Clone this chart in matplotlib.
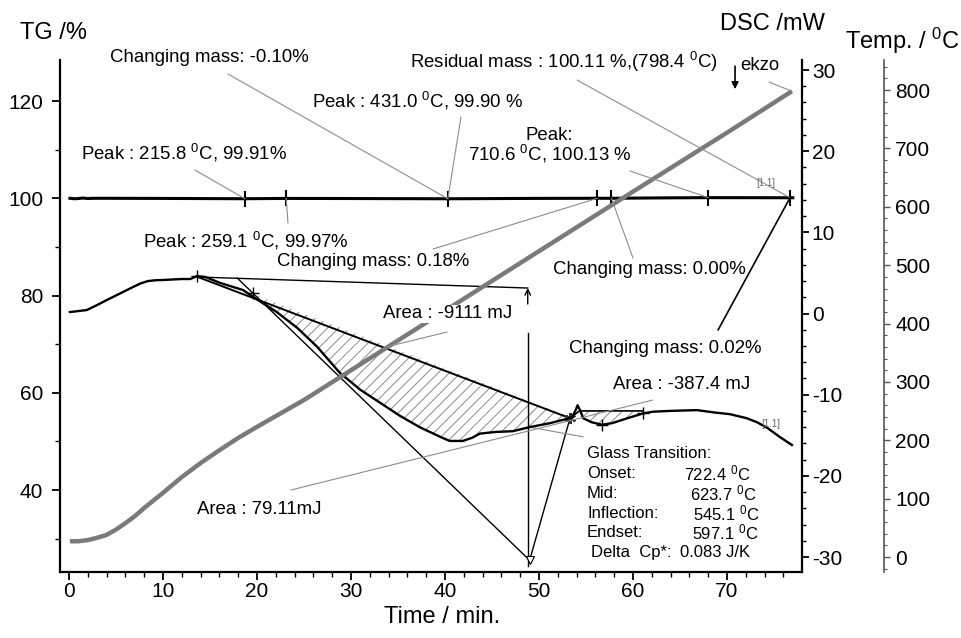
import numpy as np
import matplotlib
matplotlib.use('Agg')
import matplotlib.pyplot as plt
from matplotlib.ticker import MultipleLocator

plt.rcParams['font.family'] = ['Liberation Sans', 'DejaVu Sans']
plt.rcParams['mathtext.fontset'] = 'custom'
plt.rcParams['mathtext.rm'] = 'Liberation Sans'
plt.rcParams['mathtext.default'] = 'regular'
plt.rcParams['axes.unicode_minus'] = False
plt.rcParams['hatch.linewidth'] = 0.7

# ---- datos ----
# TG (%)
tg_time = [0.1, 0.6, 1.0, 1.5, 2.0, 2.6, 3.5, 10, 18.7, 23.1, 30, 40.3, 50, 56.2, 57.7, 63, 68.0, 73, 76.7, 77.0]
tg_val = [100.0, 99.9, 99.95, 100.05, 99.95, 100.0, 100.0, 99.97, 99.91, 99.97, 99.95, 99.90, 99.98,
          100.0, 100.0, 100.08, 100.13, 100.12, 100.11, 100.11]
tg_mark_time = [18.7, 23.1, 40.3, 56.2, 57.7, 68.0, 76.7]
tg_mark_val = [99.91, 99.97, 99.90, 100.0, 100.0, 100.13, 100.11]

# Temperatura (C)
temp_time = [0.1, 1, 2, 3, 4, 5, 6, 7, 8, 9, 10, 12, 14, 16, 18, 20, 25, 30, 40, 50, 60, 70, 76.9]
temp_val = [27, 27, 29, 33, 38, 47, 58, 70, 84, 97, 110, 137, 161, 183, 204, 223, 269, 320,
            422, 524, 626, 727, 798]

# DSC (mW)
dsc_time = [0.1, 1.9, 3.0, 4.0, 5.1, 6.0, 6.8, 7.6, 8.4, 9.2, 10.0, 12.0, 12.9, 13.6, 14.5, 16.1,
            18.5, 20.1, 22.1, 24.3, 26.4, 28.8, 31.0, 33.1, 35.2, 37.3, 39.5, 40.5, 41.9, 42.9,
            43.7, 45.3, 47.2, 49.0, 51.2, 52.9, 53.5, 53.9, 54.1, 54.4, 54.7, 55.6, 56.7, 57.8,
            59.4, 61.1, 62.1, 63.9, 66.8, 68.7, 70.3, 72.1, 73.2, 74.3, 75.6, 76.9]
dsc_val = [0.18, 0.43, 1.05, 1.65, 2.28, 2.8, 3.26, 3.7, 4.0, 4.1, 4.13, 4.25, 4.25, 4.6, 4.5,
           3.76, 2.9, 1.66, 0.18, -1.79, -4.1, -7.3, -9.4, -11.0, -12.6, -14.0, -15.2, -15.7,
           -15.7, -15.3, -14.8, -14.6, -14.5, -14.0, -13.5, -13.0, -12.8, -11.9, -11.3, -12.0,
           -12.9, -13.4, -13.7, -13.5, -12.9, -12.3, -12.1, -12.0, -11.9, -12.2, -12.4, -12.9,
           -13.4, -14.1, -15.2, -16.2]

# construcciones de la evaluacion DSC
base_time = [13.7, 53.3]
base_val = [4.5, -12.9]
onset_time = [17.9, 49.0, 53.3]
onset_val = [4.37, -30.4, -12.9]
peak_line_time = [13.7, 48.8]
peak_line_val = [4.5, 3.14]
limit_time = [48.8, 48.8]
limit_val = [-2.4, -31.1]
gt_top_time = [61.1, 54.3, 53.3]
gt_top_val = [-12.0, -12.0, -12.9]
gt_tan_time = [49.0, 54.7]
gt_tan_val = [-14.0, -15.2]
dsc_mark_time = [13.6, 19.6, 56.7, 61.1]
dsc_mark_val = [4.6, 2.5, -13.7, -12.3]

fig = plt.figure(figsize=(9.61, 6.38), dpi=100)
ax = fig.add_axes([0.0624, 0.1034, 0.7722, 0.8025])
ax2 = ax.twinx()
ax3 = ax.twinx()

# TG
ax.plot(tg_time, tg_val, color='black', lw=2.2, zorder=3)
ax.plot(tg_mark_time, tg_mark_val, ls='none', marker='|', ms=11, mew=1.5, color='black', zorder=4)
ax.set_xlim(-0.96, 77.98)
ax.set_ylim(23.14, 128.43)
ax.xaxis.set_major_locator(MultipleLocator(10))
ax.xaxis.set_minor_locator(MultipleLocator(2))
ax.yaxis.set_major_locator(MultipleLocator(20))
ax.yaxis.set_minor_locator(MultipleLocator(10))
ax.set_yticks([40, 60, 80, 100, 120])
ax.tick_params(which='major', length=6, width=1.3, labelsize=15, direction='out')
ax.tick_params(which='minor', length=3.5, width=1.0, direction='out')
ax.tick_params(axis='y', which='both', pad=6)
ax.tick_params(axis='x', which='both', pad=1.5)
for s in ['top', 'right']:
    ax.spines[s].set_visible(False)
for s in ['left', 'bottom']:
    ax.spines[s].set_linewidth(1.6)

# DSC
t_arr = np.array(dsc_time)
d_arr = np.array(dsc_val)
sel = (t_arr >= 18.5) & (t_arr <= 53.5)
ax2.fill(t_arr[sel], d_arr[sel], facecolor='none', edgecolor='#8a8a8a', hatch='///', lw=0)
sel2 = (t_arr >= 54.7) & (t_arr <= 61.1)
ax2.fill(list(t_arr[sel2]) + gt_top_time, list(d_arr[sel2]) + gt_top_val,
         facecolor='none', edgecolor='#8a8a8a', hatch='///', lw=0)
ax2.plot(dsc_time, dsc_val, color='black', lw=1.7, zorder=3)
ax2.plot(base_time, base_val, color='black', lw=1.4)
ax2.plot(gt_top_time, gt_top_val, color='black', lw=1.2)
ax2.plot(onset_time, onset_val, color='black', lw=1.0)
ax2.plot(peak_line_time, peak_line_val, color='black', lw=1.0)
ax2.plot(limit_time, limit_val, color='black', lw=1.0)
ax2.plot(gt_tan_time, gt_tan_val, color='#8c8c8c', lw=0.8)
ax2.plot(dsc_mark_time, dsc_mark_val, ls='none', marker='+', ms=9, mew=1.0, color='black')
ax2.plot([onset_time[1]], [onset_val[1]], ls='none', marker='v', ms=6, mfc='white', mec='black', mew=0.8)
ax2.plot([base_time[1]], [base_val[1]], ls='none', marker=(6, 2, 0), ms=8, mew=1.5, color='#333333')
ax2.annotate('', xy=(peak_line_time[1], peak_line_val[1]), xytext=(peak_line_time[1], 1.17),
             arrowprops=dict(arrowstyle='->', color='black', lw=1.0, shrinkA=0, shrinkB=0))
ax2.set_ylim(-31.85, 31.23)
ax2.yaxis.set_major_locator(MultipleLocator(10))
ax2.yaxis.set_minor_locator(MultipleLocator(2))
ax2.tick_params(axis='y', which='major', length=5, width=1.3, labelsize=15, pad=2)
ax2.tick_params(axis='y', which='minor', length=3, width=1.0)
for s in ['top', 'left', 'bottom']:
    ax2.spines[s].set_visible(False)
ax2.spines['right'].set_linewidth(1.6)

# Temperatura
ax3.plot(temp_time, temp_val, color='#7a7a7a', lw=3.2, solid_capstyle='butt', zorder=2)
ax3.spines['right'].set_position(('axes', 1.1105))
ax3.set_ylim(-25.7, 851.4)
ax3.yaxis.set_major_locator(MultipleLocator(100))
ax3.yaxis.set_minor_locator(MultipleLocator(20))
ax3.tick_params(axis='y', which='major', length=4, width=1.0, color='#555555', labelsize=15, pad=4)
ax3.tick_params(axis='y', which='minor', length=2.5, width=0.8, color='#555555')
for s in ['top', 'left', 'bottom']:
    ax3.spines[s].set_visible(False)
ax3.spines['right'].set_color('#555555')
ax3.spines['right'].set_linewidth(1.2)

# Rotulos y lineas guia
gray = '#8c8c8c'
fs = 13.4
tr = ax3.transAxes


def leader(xy, coords, start, color=gray, lw=0.8):
    ax3.annotate('', xy=xy, xycoords=coords, xytext=start, textcoords='axes fraction',
                 arrowprops=dict(arrowstyle='-', color=color, lw=lw, shrinkA=0, shrinkB=0))


leader((tg_mark_time[2], tg_mark_val[2]), ax.transData, (0.2264, 0.9727))
leader((tg_mark_time[2], tg_mark_val[2]), ax.transData, (0.5404, 0.8887))
leader((tg_mark_time[0], tg_mark_val[0]), ax.transData, (0.1819, 0.7852))
leader((tg_mark_time[1], tg_mark_val[1]), ax.transData, (0.3073, 0.6816))
leader((tg_mark_time[3], tg_mark_val[3]), ax.transData, (0.5027, 0.6309))
leader((tg_mark_time[5], tg_mark_val[5]), ax.transData, (0.7682, 0.7832))
leader((tg_mark_time[6], tg_mark_val[6]), ax.transData, (0.6968, 0.9609))
leader((tg_mark_time[4], tg_mark_val[4]), ax.transData, (0.7722, 0.6133))
leader((tg_mark_time[6], tg_mark_val[6]), ax.transData, (0.8868, 0.4727), color='black', lw=1.2)
leader((33.8, -4.1), ax2.transData, (0.5216, 0.4688))
leader((62.1, -10.66), ax2.transData, (0.3113, 0.1602))
leader((temp_time[-1], temp_val[-1]), ax3.transData, (0.9555, 0.957))

kw = dict(transform=tr, fontsize=fs, va='center', ha='left', clip_on=False, zorder=10)
ax3.text(0.0674, 1.004, 'Changing mass: -0.10%', **kw)
ax3.text(0.3396, 0.920, 'Peak : 431.0 $^0$C, 99.90 %', **kw)
ax3.text(0.4717, 0.996, 'Residual mass : 100.11 %,(798.4 $^0$C)', **kw)
ax3.text(0.0283, 0.818, 'Peak : 215.8 $^0$C, 99.91%', **kw)
ax3.text(0.1119, 0.6465, 'Peak : 259.1 $^0$C, 99.97%', **kw)
ax3.text(0.2925, 0.6074, 'Changing mass: 0.18%', **kw)
ax3.text(0.6644, 0.590, 'Changing mass: 0.00%', **kw)
ax3.text(0.4353, 0.504, 'Area : -9111 mJ',
         bbox=dict(facecolor='white', edgecolor='none', pad=0.5), **kw)
ax3.text(0.686, 0.4375, 'Changing mass: 0.02%', **kw)
ax3.text(0.7453, 0.367, 'Area : -387.4 mJ', **kw)
ax3.text(0.1846, 0.123, 'Area : 79.11mJ', **kw)
ax3.text(0.660, 0.832, 'Peak:\n710.6 $^0$C, 100.13 %', transform=tr, fontsize=fs, va='center',
         ha='center', multialignment='center', linespacing=0.95, zorder=10)
ax3.text(0.9164, 0.990, 'ekzo', **kw)
ax3.annotate('', xy=(0.9097, 0.943), xycoords='axes fraction', xytext=(0.9097, 0.988),
             textcoords='axes fraction',
             arrowprops=dict(arrowstyle='-|>', color='black', lw=1.2, mutation_scale=10,
                             shrinkA=0, shrinkB=0))
ax3.text(0.9515, 0.760, '[1.1]', transform=tr, fontsize=7, color='#666666', ha='center', va='center')
ax3.text(0.9582, 0.289, '[1.1]', transform=tr, fontsize=7, color='#666666', ha='center', va='center')

gt_kw = dict(transform=tr, fontsize=12, va='center', ha='left', zorder=10)
gt_labels = ['Onset:', 'Mid:', 'Inflection:', 'Endset:']
gt_values = ['722.4 $^0$C', '623.7 $^0$C', '545.1 $^0$C', '597.1 $^0$C']
gt_vx = [684, 690, 693, 692]
gt_y = [473, 493, 513, 532]
ax3.text((587 - 60) / 742, (572 - 453) / 512, 'Glass Transition:', **gt_kw)
for lab, val, vx, y in zip(gt_labels, gt_values, gt_vx, gt_y):
    ax3.text((587 - 60) / 742, (572 - y) / 512, lab, **gt_kw)
    ax3.text((vx - 60) / 742, (572 - y) / 512, val, **gt_kw)
ax3.text((591 - 60) / 742, (572 - 552) / 512, 'Delta  Cp*:', **gt_kw)
ax3.text((680 - 60) / 742, (572 - 552) / 512, '0.083 J/K', **gt_kw)

# titulos de ejes
fig.text(0.0208, 0.948, 'TG /%', fontsize=17, ha='left', va='center')
fig.text(0.749, 0.962, 'DSC /mW', fontsize=17, ha='left', va='center')
fig.text(0.879, 0.936, 'Temp. / $^0$C', fontsize=17, ha='left', va='center')
fig.text(0.46, 0.033, 'Time / min.', fontsize=17, ha='center', va='center')

fig.savefig('out.png', dpi=100)
